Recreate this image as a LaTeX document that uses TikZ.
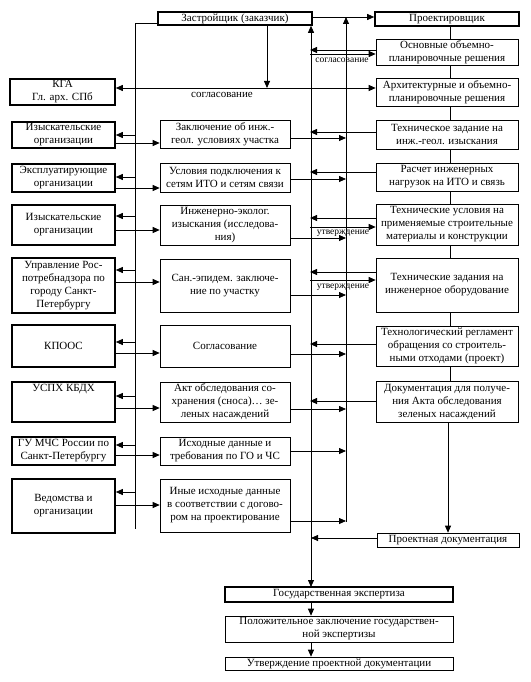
\documentclass[tikz,border=0pt]{standalone}
\usepackage{fontspec}
\setmainfont{Liberation Serif}
\usetikzlibrary{arrows.meta}
\tikzset{
  thickbox/.style={draw, line width=1.6pt, inner sep=0pt, align=center, font=\fontsize{11}{13}\selectfont},
  thinbox/.style={draw, line width=0.6pt, inner sep=0pt, align=center, font=\fontsize{11}{13}\selectfont},
  conn/.style={line width=0.8pt},
  arr/.style={line width=0.8pt, -{Triangle[length=7pt,width=6pt]}},
  darr/.style={line width=0.8pt, {Triangle[length=7pt,width=6pt]}-{Triangle[length=7pt,width=6pt]}},
  small/.style={font=\fontsize{9.5}{11}\selectfont, inner sep=0pt},
}
\newcommand\mybox[7]{\node[#1, minimum width={(#5-#3)*1pt}, minimum height={(#6-#4)*1pt}] (#2) at ({(#3+#5)/2},{(#4+#6)/2}) {#7};}
\begin{document}
\begin{tikzpicture}[x=1pt,y=-1pt]
\useasboundingbox (0,0) rectangle (530,682);
% top
\mybox{thickbox}{Z}{158}{12}{312}{25}{Застройщик (заказчик)}
\mybox{thickbox}{P}{375}{12}{519}{26}{Проектировщик}
% right column
\mybox{thinbox}{R1}{376}{39}{518}{65}{Основные объемно-\\планировочные решения}
\mybox{thinbox}{R2}{376}{78}{518}{106}{Архитектурные и объемно-\\планировочные решения}
\mybox{thinbox}{R3}{376}{120}{518}{149}{Техническое задание на\\инж.-геол. изыскания}
\mybox{thinbox}{R4}{376}{163}{518}{191}{Расчет инженерных\\нагрузок на ИТО и связь}
\mybox{thinbox}{R5}{376}{204}{518}{245}{Технические условия на\\применяемые строительные\\материалы и конструкции}
\mybox{thinbox}{R6}{376}{258}{518}{312}{Технические задания на\\инженерное оборудование}
\mybox{thinbox}{R7}{376}{326}{518}{366}{Технологический регламент\\обращения со строитель-\\ными отходами (проект)}
\mybox{thinbox}{R8}{376}{381}{518}{422}{Документация для получе-\\ния Акта обследования\\зеленых насаждений}
\mybox{thinbox}{R9}{377}{533}{519}{547}{Проектная документация}
% left column
\mybox{thickbox}{L0}{10}{79}{115}{105}{КГА\\Гл. арх. СПб}
\mybox{thickbox}{L1}{12}{122}{115}{148}{Изыскательские\\организации}
\mybox{thickbox}{L2}{12}{164}{115}{192}{Эксплуатирующие\\организации}
\mybox{thickbox}{L3}{12}{205}{115}{245}{Изыскательские\\организации}
\mybox{thickbox}{L4}{12}{258}{115}{313}{Управление Рос-\\потребнадзора по\\городу Санкт-\\Петербургу}
\mybox{thickbox}{L5}{12}{325}{115}{367}{КПООС}
\mybox{thickbox}{L6}{12}{382}{115}{422}{}
\node[font=\fontsize{11}{13}\selectfont, anchor=north, inner sep=0pt] (L6t) at ([yshift=-3pt]L6.north) {УСПХ КБДХ};
\mybox{thickbox}{L7}{12}{437}{115}{465}{ГУ МЧС России по\\Санкт-Петербургу}
\mybox{thickbox}{L8}{12}{479}{115}{533}{Ведомства и\\организации}
% middle column
\mybox{thinbox}{M1}{160}{120}{290}{148}{Заключение об инж.-\\геол. условиях участка}
\mybox{thinbox}{M2}{160}{163}{290}{192}{Условия подключения к\\сетям ИТО и сетям связи}
\mybox{thinbox}{M3}{160}{205}{290}{245}{Инженерно-эколог.\\изыскания (исследова-\\ния)}
\mybox{thinbox}{M4}{160}{259}{290}{312}{Сан.-эпидем. заключе-\\ние по участку}
\mybox{thinbox}{M5}{160}{325}{290}{367}{Согласование}
\mybox{thinbox}{M6}{160}{382}{290}{422}{Акт обследования со-\\хранения (сноса)… зе-\\леных насаждений}
\mybox{thinbox}{M7}{160}{437}{290}{465}{Исходные данные и\\требования по ГО и ЧС}
\mybox{thinbox}{M8}{160}{479}{290}{532}{Иные исходные данные\\в соответствии с догово-\\ром на проектирование}
% bottom
\mybox{thickbox}{G1}{225}{587}{453}{602}{Государственная экспертиза}
\mybox{thinbox}{G2}{225}{616}{453}{642}{Положительное заключение государствен-\\ной экспертизы}
\mybox{thinbox}{G3}{225}{657}{453}{670}{Утверждение проектной документации}
% bus coordinates
\coordinate (aTop) at (135,23);
\coordinate (aBot) at (135,529);
\coordinate (bBot) at (311,587);
\coordinate (cTop) at (346,17);
\coordinate (cBot) at (346,522);
\coordinate (kga) at (267,88);
% top connections
\draw[arr] (Z.east |- cTop) -- (P.west |- cTop);
\draw[conn] (Z.west |- aTop) -- (aTop) -- (aBot);
\draw[darr] (Z.south -| bBot) -- (bBot);
\draw[arr] (cBot) -- (cTop);
\draw[arr] (Z.south -| kga) -- (kga);
\draw[darr] (L0.east |- kga) -- (R2.west |- kga);
\node[font=\fontsize{11}{13}\selectfont, inner sep=0pt] (lblK) at (222,95) {согласование};
% right spine
\draw[conn] (P.south -| 450,0) -- (R1.north -| 450,0);
\draw[conn] (R1.south -| 450,0) -- (R2.north -| 450,0);
\draw[conn] (R2.south -| 450,0) -- (R3.north -| 450,0);
\draw[conn] (R3.south -| 450,0) -- (R4.north -| 450,0);
\draw[conn] (R4.south -| 450,0) -- (R5.north -| 450,0);
\draw[conn] (R5.south -| 450,0) -- (R6.north -| 450,0);
\draw[conn] (R6.south -| 450,0) -- (R7.north -| 450,0);
\draw[conn] (R7.south -| 450,0) -- (R8.north -| 450,0);
\draw[arr] (R8.south -| 448,0) -- (R9.north -| 448,0);
% R1 agreement
\draw[arr] (R1.west |- 0,50) -- (310,50);
\draw[arr] (310,54) -- (R1.west |- 0,54);
\node[small] (lblS) at (342,60) {согласование};
% row 1
\draw[arr] (135,135) -- (L1.east |- 0,135);
\draw[arr] (L1.east |- 0,143) -- (M1.west |- 0,143);
\draw[arr] (M1.east |- 0,138) -- (346,138);
\draw[arr] (R3.west |- 0,132) -- (310,132);
% row 2
\draw[arr] (135,177) -- (L2.east |- 0,177);
\draw[arr] (L2.east |- 0,188) -- (M2.west |- 0,188);
\draw[arr] (M2.east |- 0,179) -- (346,179);
\draw[arr] (R4.west |- 0,172) -- (310,172);
% row 3
\draw[arr] (135,216) -- (L3.east |- 0,216);
\draw[arr] (L3.east |- 0,230) -- (M3.west |- 0,230);
\draw[arr] (M3.east |- 0,238) -- (346,238);
\draw[arr] (R5.west |- 0,218) -- (310,218);
\draw[arr] (310,227) -- (R5.west |- 0,227);
\node[small] (lblU1) at (343,233) {утверждение};
% row 4
\draw[arr] (135,270) -- (L4.east |- 0,270);
\draw[arr] (L4.east |- 0,282) -- (M4.west |- 0,282);
\draw[arr] (M4.east |- 0,295) -- (346,295);
\draw[arr] (R6.west |- 0,272) -- (310,272);
\draw[arr] (310,280) -- (R6.west |- 0,280);
\node[small] (lblU2) at (343,287) {утверждение};
% row 5
\draw[arr] (135,342) -- (L5.east |- 0,342);
\draw[arr] (L5.east |- 0,353) -- (M5.west |- 0,353);
\draw[arr] (M5.east |- 0,354) -- (346,354);
\draw[arr] (R7.west |- 0,344) -- (310,344);
% row 6
\draw[arr] (135,396) -- (L6.east |- 0,396);
\draw[arr] (L6.east |- 0,408) -- (M6.west |- 0,408);
\draw[arr] (M6.east |- 0,409) -- (346,409);
\draw[arr] (R8.west |- 0,401) -- (310,401);
% row 7
\draw[arr] (135,445) -- (L7.east |- 0,445);
\draw[arr] (L7.east |- 0,455) -- (M7.west |- 0,455);
\draw[arr] (M7.east |- 0,451) -- (346,451);
% row 8
\draw[arr] (135,492) -- (L8.east |- 0,492);
\draw[arr] (L8.east |- 0,505) -- (M8.west |- 0,505);
\draw[arr] (M8.east |- 0,521) -- (346,521);
% project docs
\draw[arr] (R9.west |- 0,538) -- (311,538);
% bottom chain
\draw[arr] (G1.south -| bBot) -- (G2.north -| bBot);
\draw[arr] (G2.south -| bBot) -- (G3.north -| bBot);
\end{tikzpicture}
\end{document}
